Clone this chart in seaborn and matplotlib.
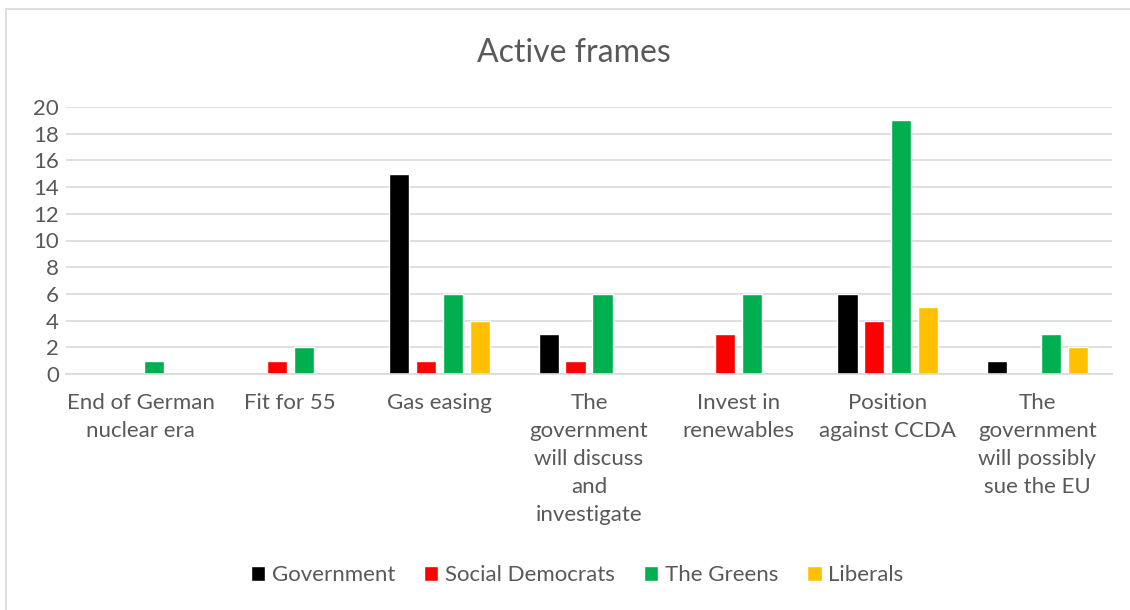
import numpy as np
import pandas as pd
import matplotlib
matplotlib.use("Agg")
import matplotlib.pyplot as plt
from matplotlib.patches import Rectangle
import seaborn as sns

categories = [
    "End of German\nnuclear era",
    "Fit for 55",
    "Gas easing",
    "The\ngovernment\nwill discuss\nand\ninvestigate",
    "Invest in\nrenewables",
    "Position\nagainst CCDA",
    "The\ngovernment\nwill possibly\nsue the EU",
]
parties = ["Government", "Social Democrats", "The Greens", "Liberals"]
government = [0, 0, 15, 3, 0, 6, 1]
social_democrats = [0, 1, 1, 1, 3, 4, 0]
greens = [1, 2, 6, 6, 6, 19, 3]
liberals = [0, 0, 4, 0, 0, 5, 2]
colors = ["#000000", "#FF0000", "#00B050", "#FFC000"]

df = pd.DataFrame({"frame": categories,
                   "Government": government,
                   "Social Democrats": social_democrats,
                   "The Greens": greens,
                   "Liberals": liberals})
df = df.melt(id_vars="frame", var_name="party", value_name="count")

sns.set_style("white")
plt.rcParams["font.family"] = ["Lato", "DejaVu Sans"]
text_color = "#595959"
grid_color = "#d9d9d9"

fig = plt.figure(figsize=(11.3, 6.1), dpi=100)
ax = fig.add_axes([66 / 1130, 1 - 374 / 610, (1112 - 66) / 1130, (374 - 107) / 610])

sns.barplot(data=df, x="frame", y="count", hue="party", hue_order=parties,
            palette=colors, width=0.72, gap=0.25, ax=ax, saturation=1)

ax.set_ylim(0, 20)
ax.set_yticks(range(0, 21, 2))
ax.set_xlim(-0.5, len(categories) - 0.5)
ax.set_xlabel("")
ax.set_ylabel("")
ax.yaxis.grid(True, color=grid_color, linewidth=1.2)
ax.set_axisbelow(True)
for side in ["top", "right", "left"]:
    ax.spines[side].set_visible(False)
ax.spines["bottom"].set_color(grid_color)
ax.spines["bottom"].set_linewidth(1.2)
ax.tick_params(axis="both", length=0, labelsize=16, colors=text_color)
ax.tick_params(axis="x", pad=14)
ax.tick_params(axis="y", pad=5)
for lbl in ax.get_xticklabels():
    lbl.set_linespacing(1.5)
    lbl.set_verticalalignment("top")

handles, labels = ax.get_legend_handles_labels()
ax.get_legend().remove()
fig.legend(handles, labels, loc="center", bbox_to_anchor=(577 / 1130, 1 - 575 / 610),
           ncol=4, frameon=False, fontsize=16, handlelength=0.65, handleheight=0.65,
           handletextpad=0.3, columnspacing=1.3, labelcolor=text_color)

fig.text(574 / 1130, 1 - 53 / 610, "Active frames", ha="center", va="center",
         fontsize=23, color=text_color)

fig.patches.append(Rectangle((6 / 1130, -0.1), 2, 1.1 - 9 / 610, transform=fig.transFigure,
                             fill=False, edgecolor=grid_color, linewidth=1.2))

fig.savefig("out.png", dpi=100)
